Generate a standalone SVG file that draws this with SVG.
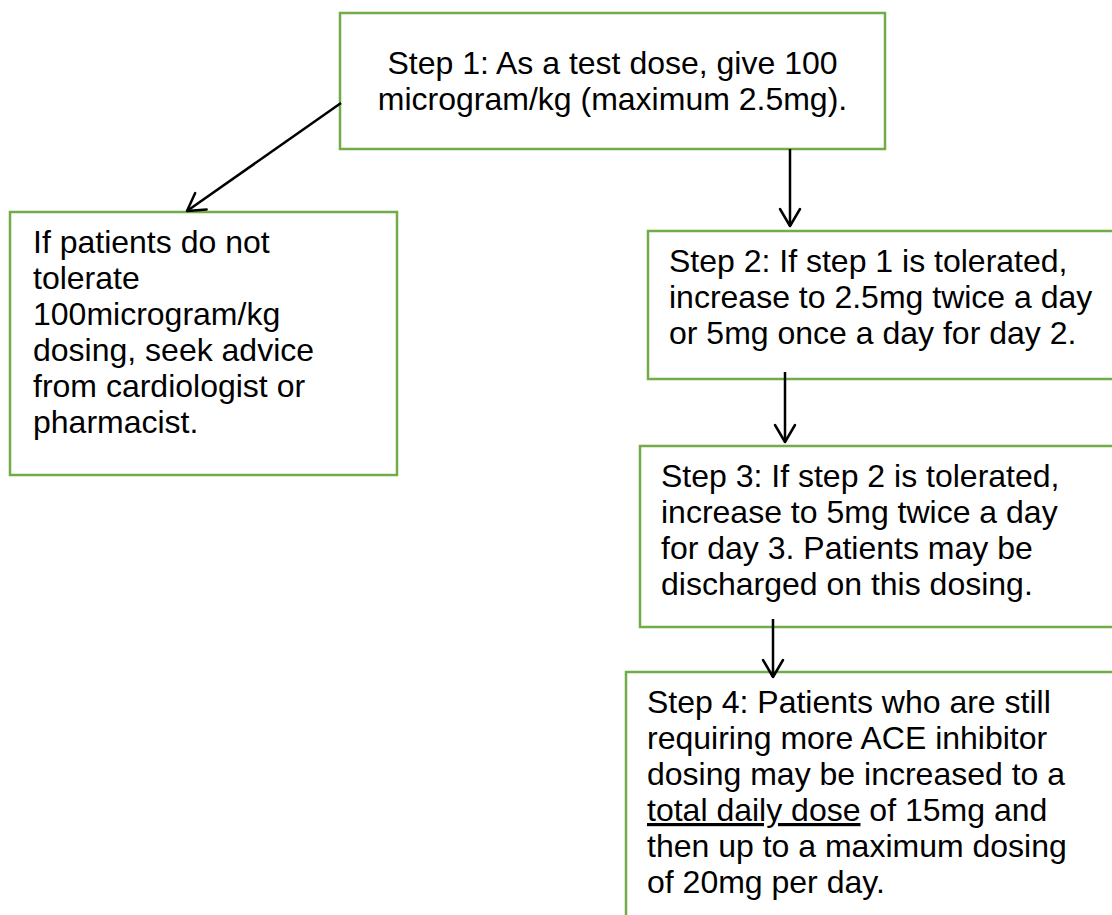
<svg xmlns="http://www.w3.org/2000/svg" width="1112" height="915" viewBox="0 0 1112 915">
<style>
.box{fill:#fff;stroke:#70AD47;stroke-width:2.5}
.t{font-family:"Liberation Sans",Arial,sans-serif;font-size:32px;fill:#000}
.c{fill:none;stroke:#000;stroke-width:2.5}
</style>
<defs>
<marker id="ah" markerUnits="userSpaceOnUse" orient="auto" markerWidth="40" markerHeight="40" viewBox="-20 -20 40 40" refX="0" refY="0" overflow="visible">
<path d="M-17,-10 L0,0 L-17,10" fill="none" stroke="#000" stroke-width="2.5" stroke-linecap="round" stroke-linejoin="round"/>
</marker>
</defs>
<rect width="1112" height="915" fill="#fff"/>
<g id="step1">
<rect class="box" x="340" y="13" width="545" height="136"/>
<text class="t" text-anchor="middle"><tspan x="612.5" y="74">Step 1: As a test dose, give 100</tspan><tspan x="612.5" y="110">microgram/kg (maximum 2.5mg).</tspan></text>
</g>
<g id="advice">
<rect class="box" x="10" y="212" width="387" height="263"/>
<text class="t"><tspan x="33" y="253">If patients do not</tspan><tspan x="33" y="289">tolerate</tspan><tspan x="33" y="325">100microgram/kg</tspan><tspan x="33" y="361">dosing, seek advice</tspan><tspan x="33" y="397">from cardiologist or</tspan><tspan x="33" y="433">pharmacist.</tspan></text>
</g>
<g id="step2">
<rect class="box" x="648" y="231" width="500" height="148"/>
<text class="t"><tspan x="669" y="272">Step 2: If step 1 is tolerated,</tspan><tspan x="669" y="308">increase to 2.5mg twice a day</tspan><tspan x="669" y="344">or 5mg once a day for day 2.</tspan></text>
</g>
<g id="step3">
<rect class="box" x="640" y="446" width="500" height="181"/>
<text class="t"><tspan x="661" y="487">Step 3: If step 2 is tolerated,</tspan><tspan x="661" y="523">increase to 5mg twice a day</tspan><tspan x="661" y="559">for day 3. Patients may be</tspan><tspan x="661" y="595">discharged on this dosing.</tspan></text>
</g>
<g id="step4">
<rect class="box" x="626" y="672" width="520" height="280"/>
<text class="t"><tspan x="647" y="713">Step 4: Patients who are still</tspan><tspan x="647" y="749">requiring more ACE inhibitor</tspan><tspan x="647" y="785">dosing may be increased to a</tspan><tspan x="647" y="821" text-decoration="underline">total daily dose</tspan><tspan> of 15mg and</tspan><tspan x="647" y="857">then up to a maximum dosing</tspan><tspan x="647" y="893">of 20mg per day.</tspan></text>
</g>
<g id="connectors">
<line class="c" x1="341" y1="103" x2="187" y2="211" marker-end="url(#ah)"/>
<line class="c" x1="790" y1="149" x2="790" y2="226" marker-end="url(#ah)"/>
<line class="c" x1="785" y1="372" x2="785" y2="442" marker-end="url(#ah)"/>
<line class="c" x1="773" y1="619" x2="773" y2="677" marker-end="url(#ah)"/>
</g>
</svg>
